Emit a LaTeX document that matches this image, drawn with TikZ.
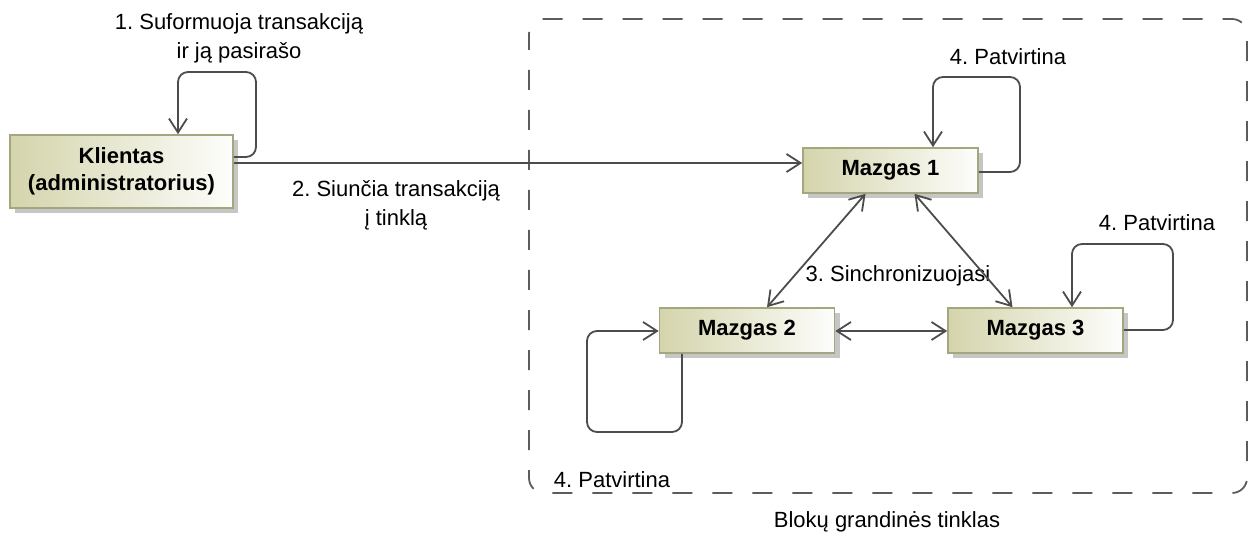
\documentclass[tikz,border=0pt]{standalone}
\usepackage{fontspec}
\setmainfont{Liberation Sans}
\usetikzlibrary{arrows.meta,shadows,calc}
\definecolor{lineC}{HTML}{4C4C4C}
\definecolor{dashC}{HTML}{5C5C5C}
\definecolor{boxEdge}{HTML}{A6A67E}
\definecolor{boxFill}{HTML}{D4D4AC}
\definecolor{shadowC}{HTML}{C6C6C6}
\frenchspacing
\begin{document}
\begin{tikzpicture}[x=1pt,y=-1pt,
  blk/.style={draw=boxEdge, line width=1.6pt, left color=boxFill, right color=white!96!boxFill,
    drop shadow={shadow xshift=5pt, shadow yshift=-5pt, fill=shadowC, opacity=1},
    minimum width=175pt, minimum height=45pt, inner sep=0pt, align=center,
    font=\bfseries\fontsize{22}{27}\selectfont},
  lbl/.style={font=\fontsize{22}{29}\selectfont, align=center, inner sep=0pt},
  tip/.style={Straight Barb[length=14pt,width=18pt]},
  conn/.style={draw=lineC, line width=1.8pt, -{Straight Barb[length=14pt,width=18pt]}},
  both/.style={draw=lineC, line width=1.8pt, {Straight Barb[length=14pt,width=18pt]}-{Straight Barb[length=14pt,width=18pt]}},
  loopc/.style={conn, rounded corners=10pt},
  dashbox/.style={draw=dashC, line width=1.8pt, dash pattern=on 20pt off 20pt, dash phase=4pt, rounded corners=15pt}]
\useasboundingbox (0,0) rectangle (1250,537);

% blockchain network frame
\draw[dashbox] (529,19) rectangle (1247,493);
\node[lbl] (net) at (887,522) {Blokų grandinės tinklas};

% participants
\node[blk, minimum width=223pt, minimum height=73pt] (kl) at (121.5,171.5) {Klientas\\(administratorius)};
\node[blk] (m1) at (890.5,170.5) {Mazgas 1};
\node[blk] (m2) at (747,330.5) {Mazgas 2};
\node[blk] (m3) at (1035.5,330.5) {Mazgas 3};

% step labels
\node[lbl] (l1) at (239,38) {1. Suformuoja transakciją\\ir ją pasirašo};
\node[lbl] (l2) at (396,205) {2. Siunčia transakciją\\į tinklą};
\node[lbl] (l3) at (898,276) {3. Sinchronizuojasi};
\node[lbl] (l4a) at (1008,57) {4. Patvirtina};
\node[lbl] (l4b) at (1157,223) {4. Patvirtina};
\node[lbl] (l4c) at (612,480) {4. Patvirtina};

% client signs and sends the transaction
\draw[loopc] (kl.east |- 0,157) -- (256,157) -- (256,72) -- (178,72) -- (kl.north -| 178,0);
\draw[conn] (kl.east |- 0,163) -- (m1.west |- 0,163);

% node synchronisation
\draw[both] ($(m1.south)+(-25,0)$) -- ($(m2.north)+(20,0)$);
\draw[both] ($(m1.south)+(24,0)$) -- ($(m3.north)+(-23,0)$);
\draw[both] (m2.east |- 0,331) -- (m3.west |- 0,331);

% confirmations
\draw[loopc] (m1.east |- 0,172) -- (1020,172) -- (1020,77) -- (933,77) -- (m1.north -| 933,0);
\draw[loopc] (m3.east |- 0,330) -- (1173,330) -- (1173,244) -- (1072,244) -- (m3.north -| 1072,0);
\draw[loopc] (m2.south -| 682,0) -- (682,432) -- (587,432) -- (587,331) -- (m2.west |- 0,331);
\end{tikzpicture}
\end{document}
